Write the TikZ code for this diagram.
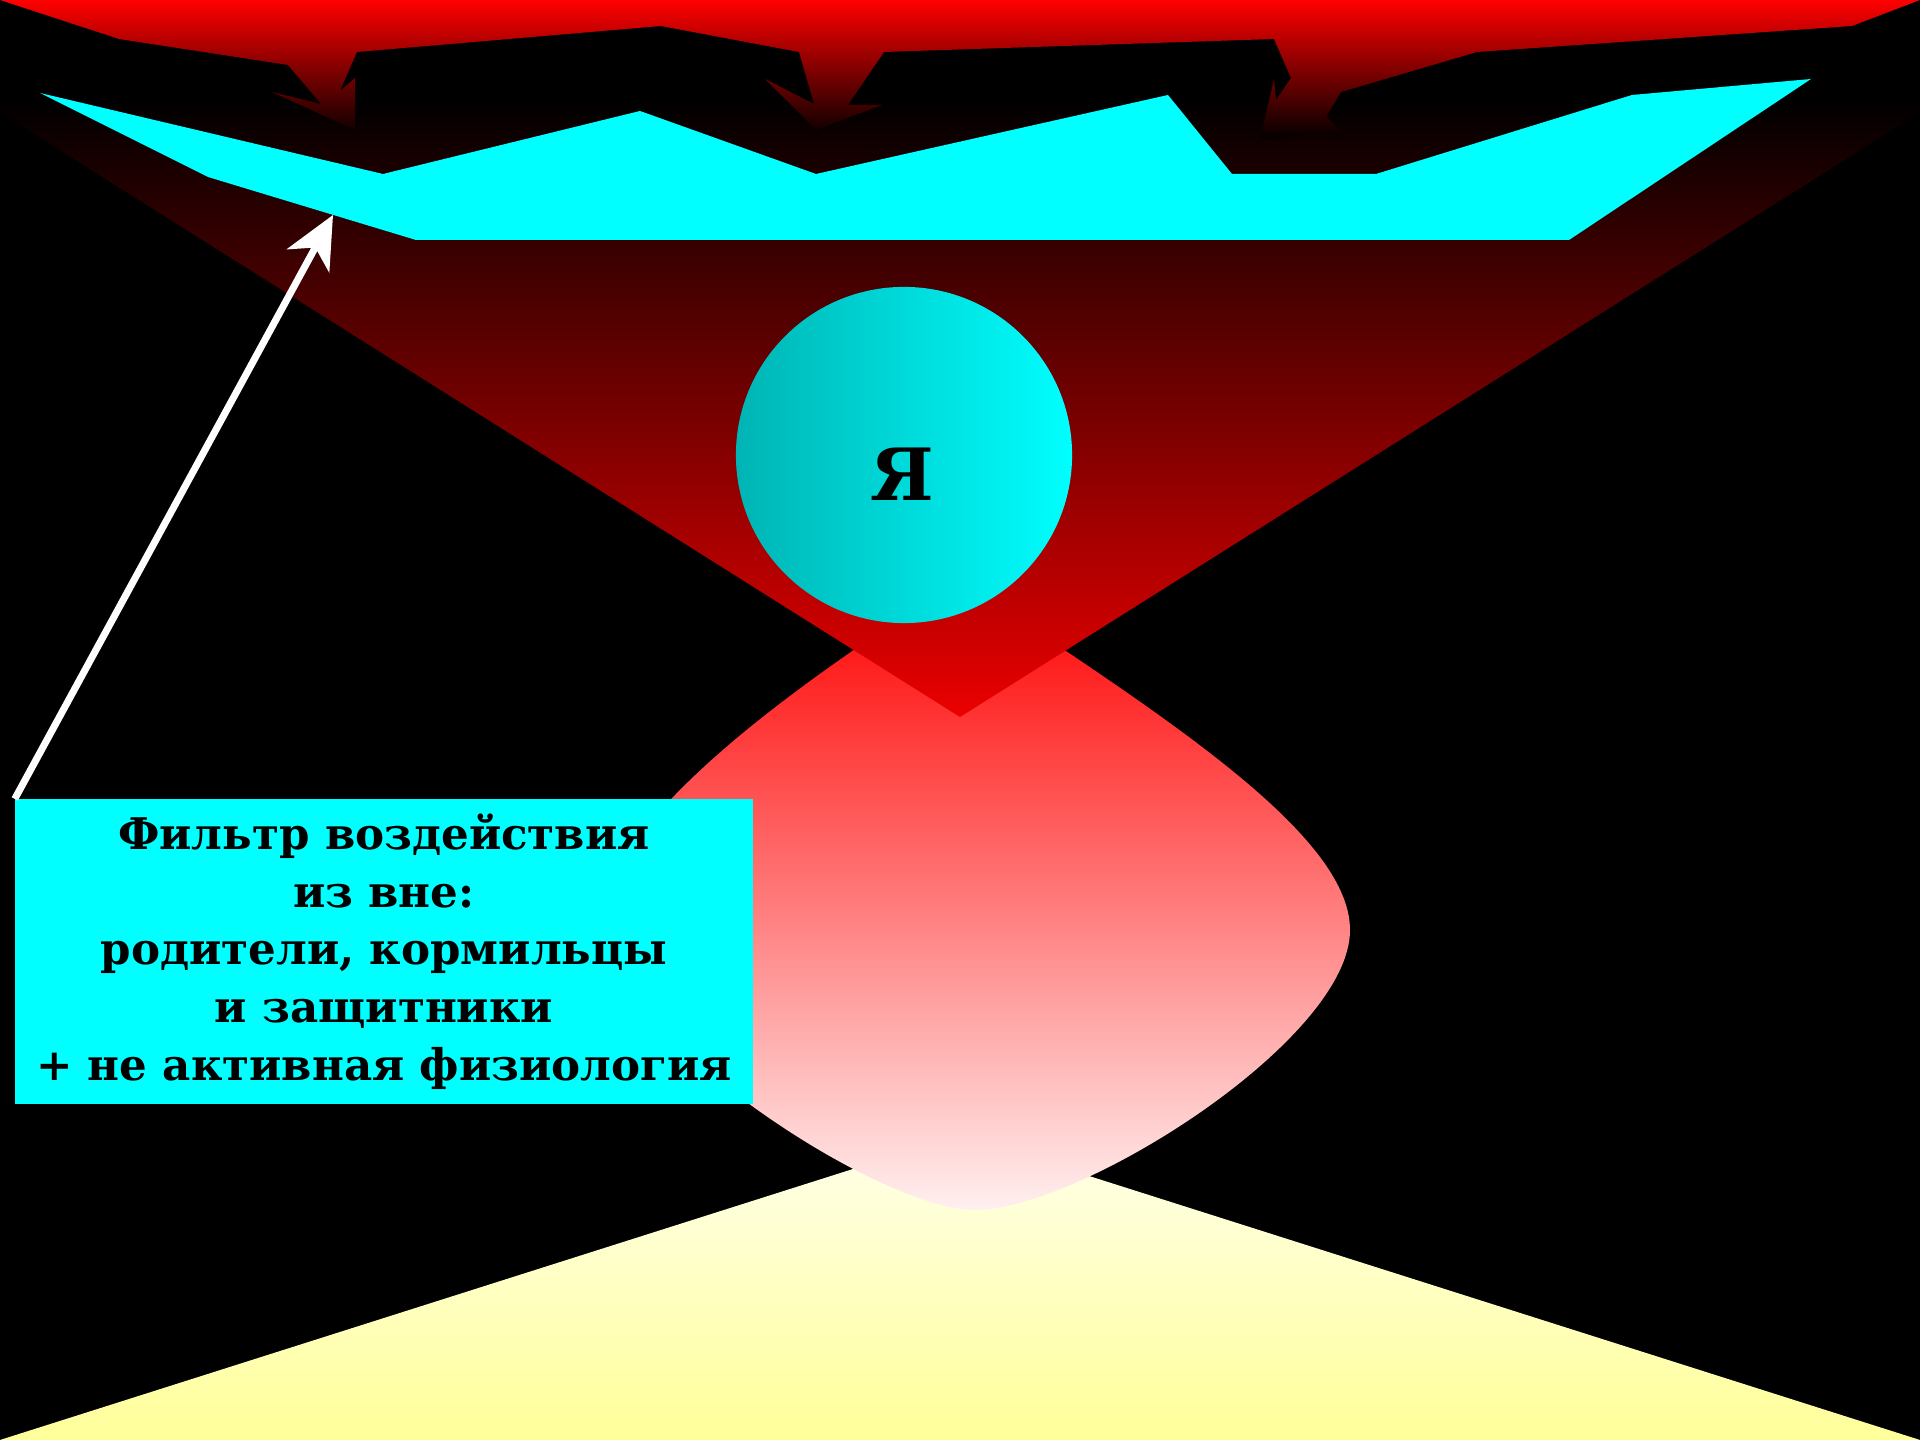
\documentclass[tikz,border=0pt]{standalone}
\usepackage{fontspec}
\setmainfont{DejaVu Serif}
\usetikzlibrary{arrows.meta}
\definecolor{flame}{HTML}{FF0000}
\definecolor{ember}{HTML}{EB0000}
\definecolor{aqua}{HTML}{00FFFF}
\definecolor{deepaqua}{HTML}{00B4B4}
\definecolor{blush}{HTML}{FFF0F0}
\definecolor{cream}{HTML}{FFFFEB}
\definecolor{straw}{HTML}{FFFF99}
\tikzset{
  pressure/.style={top color=flame, bottom color=black},
  funnel/.style={top color=black, bottom color=ember},
  drop/.style={top color=flame, bottom color=blush},
  ground/.style={top color=cream, bottom color=straw},
  shield/.style={fill=aqua},
  egoball/.style={circle, left color=deepaqua, right color=aqua, minimum size=3.36cm,
                  inner sep=0pt, outer sep=0pt},
  egotext/.style={font=\fontsize{20.5}{24}\selectfont\bfseries, inner sep=0pt},
  notebox/.style={rectangle, fill=aqua, align=center, inner sep=0pt, outer sep=0pt,
                  minimum width=7.38cm, minimum height=3.05cm,
                  font=\fontsize{12.4}{16.4}\selectfont\bfseries},
  pointer/.style={-{Stealth[length=0.52cm, width=0.48cm, inset=0.15cm]}, draw=white, line width=2pt},
}
\begin{document}
\begin{tikzpicture}[x=0.01cm, y=-0.01cm]
\useasboundingbox (0,0) rectangle (1920,1440);
\fill[black] (0,0) rectangle (1920,1440);
% ground and the soft drop
\path[ground] (0,1440) -- (960,1135) -- (1920,1440) -- cycle;
\path[drop] (960,580) .. controls (1145,705) and (1350,830) .. (1350,930)
  .. controls (1350,1040) and (1080,1210) .. (975,1210)
  .. controls (880,1210) and (620,1040) .. (600,930)
  .. controls (600,830) and (770,700) .. (960,580) -- cycle;
% funnel of pressure from above
\path[funnel] (-20,100) -- (1940,100) -- (960,717) -- cycle;
\path[pressure] (0,0) -- (119,39) -- (288,65) -- (321,104) -- (272,92) -- (355,130)
  -- (355,78) -- (340,91) -- (357,52) -- (661,26) -- (799,52) -- (814,104) -- (765,79)
  -- (816,130) -- (882,105) -- (848,105) -- (884,52) -- (1274,39) -- (1291,78)
  -- (1276,100) -- (1274,79) -- (1260,140) -- (1340,130) -- (1326,117) -- (1341,92)
  -- (1477,52) -- (1852,26) -- (1920,0) -- cycle;
% the filter
\path[shield] (40,93) -- (383,174) -- (640,111) -- (816,174) -- (1168,95) -- (1232,174)
  -- (1376,174) -- (1632,95) -- (1811,79) -- (1569,240) -- (416,240) -- (208,177) -- cycle;
\node[egoball] (ego) at (904,455) {};
\node[egotext] (egolbl) at (902,474) {Я};
\node[notebox] (filtr) at (384,951.5) {Фильтр воздействия\\из вне:\\родители, кормильцы\\и защитники\\+ не активная физиология};
\coordinate (hit) at (333,215);
\draw[pointer] (filtr.north west) -- (hit);
\end{tikzpicture}
\end{document}
